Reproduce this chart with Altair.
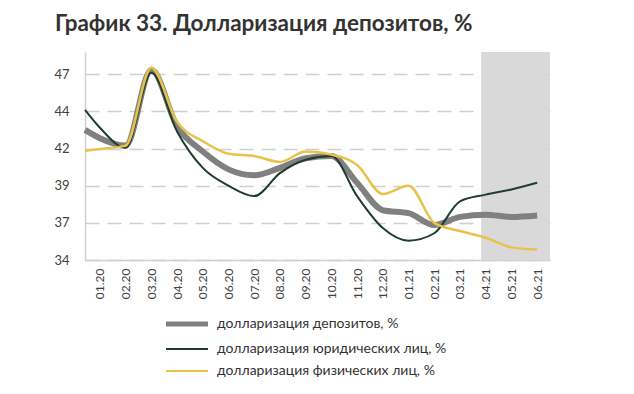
import altair as alt
import pandas as pd

months = ["01.20", "02.20", "03.20", "04.20", "05.20", "06.20", "07.20", "08.20", "09.20",
          "10.20", "11.20", "12.20", "01.21", "02.21", "03.21", "04.21", "05.21", "06.21"]
# x positions in month units (first point = start of series, just before 01.20)
x_pos = [-0.58] + list(range(len(months)))

series_names = ["долларизация депозитов, %",
                "долларизация юридических лиц, %",
                "долларизация физических лиц, %"]

total = [43.26, 42.7, 42.2, 47.3, 43.5, 41.8, 40.6, 40.2, 40.7, 41.35, 41.5, 39.7,
         37.85, 37.65, 36.85, 37.4, 37.55, 37.4, 37.5]
legal = [44.6, 43.4, 42.05, 47.1, 43.15, 40.7, 39.5, 38.8, 40.35, 41.25, 41.5, 38.8,
         36.65, 35.8, 36.3, 38.45, 38.9, 39.25, 39.7]
retail = [41.85, 41.97, 42.2, 47.45, 43.8, 42.5, 41.65, 41.5, 41.1, 41.8, 41.6, 40.9,
          38.95, 39.5, 37.0, 36.45, 36.0, 35.35, 35.2]

y_ticks = [34.5, 37, 39.5, 42, 44.5, 47]
forecast_start = 14.82
x_min, x_max = -0.58, 17.5
y_min, y_max = 34.5, 48.5

colors = ["#808080", "#1f3d2c", "#e9c24c"]
widths = [6, 2, 2.5]

rows = []
for name, vals in zip(series_names, [total, legal, retail]):
    for x, v in zip(x_pos, vals):
        rows.append({"x": x, "value": v, "series": name})
df = pd.DataFrame(rows)

shade_df = pd.DataFrame({"x": [forecast_start], "x2": [x_max], "value": [y_min], "y2": [y_max]})

label_expr = "[" + ",".join("'" + m + "'" for m in months) + "][datum.value]"

x_scale = alt.Scale(domain=[x_min, x_max], nice=False, zero=False)
y_scale = alt.Scale(domain=[y_min, y_max], nice=False, zero=False)

x_axis = alt.Axis(values=list(range(len(months))), labelExpr=label_expr,
                  labelAngle=-90, labelAlign="right", labelBaseline="middle",
                  labelPadding=8, ticks=False, grid=False, domain=True,
                  domainColor="#d0d0d0", domainWidth=1.5, title=None,
                  labelFont="Lato", labelFontSize=12, labelColor="#404040")
y_axis = alt.Axis(values=y_ticks, labelExpr="floor(datum.value)", ticks=False,
                  grid=True, gridDash=[14, 8], gridColor="#cfcfcf", gridWidth=1.5,
                  domain=True, domainColor="#d0d0d0", domainWidth=1.5,
                  labelPadding=16, title=None, labelFont="Lato",
                  labelFontSize=13, labelColor="#404040")

color_enc = alt.Color(
    "series:N", scale=alt.Scale(domain=series_names, range=colors),
    legend=alt.Legend(title=None, orient="none", legendX=95, legendY=265,
                      direction="vertical", symbolType="M-3,0H3",
                      symbolSize=196,
                      symbolStrokeWidth={"expr": "datum.value == '" + series_names[0] + "' ? 5 : 2.2"},
                      labelFont="Lato", labelFontSize=14, labelLimit=400,
                      labelColor="#333333", rowPadding=8, labelOffset=23))

shade = alt.Chart(shade_df).mark_rect(color="#d9d9d9").encode(
    x=alt.X("x:Q", scale=x_scale, axis=x_axis),
    x2="x2:Q",
    y=alt.Y("value:Q", scale=y_scale, axis=y_axis),
    y2="y2:Q",
)

layers = [shade]
for name, w in zip(series_names, widths):
    layers.append(
        alt.Chart(df).transform_filter(alt.datum.series == name)
        .mark_line(interpolate="monotone", strokeWidth=w)
        .encode(
            x=alt.X("x:Q", scale=x_scale, axis=x_axis),
            y=alt.Y("value:Q", scale=y_scale, axis=y_axis),
            color=color_enc,
        )
    )

chart = alt.layer(*layers).properties(
    width=465, height=208,
    padding={"left": 77, "top": 44, "right": 60, "bottom": 120},
    autosize=alt.AutoSizeParams(type="none"),
    title=alt.TitleParams("График 33. Долларизация депозитов, %", anchor="start",
                          frame="group", dx=-30, offset=17, font="Lato", fontSize=22.5,
                          fontWeight="bold", color="#333333"),
).configure_view(stroke=None)

chart.save("out.html", embed_options={"renderer": "svg", "actions": False})
